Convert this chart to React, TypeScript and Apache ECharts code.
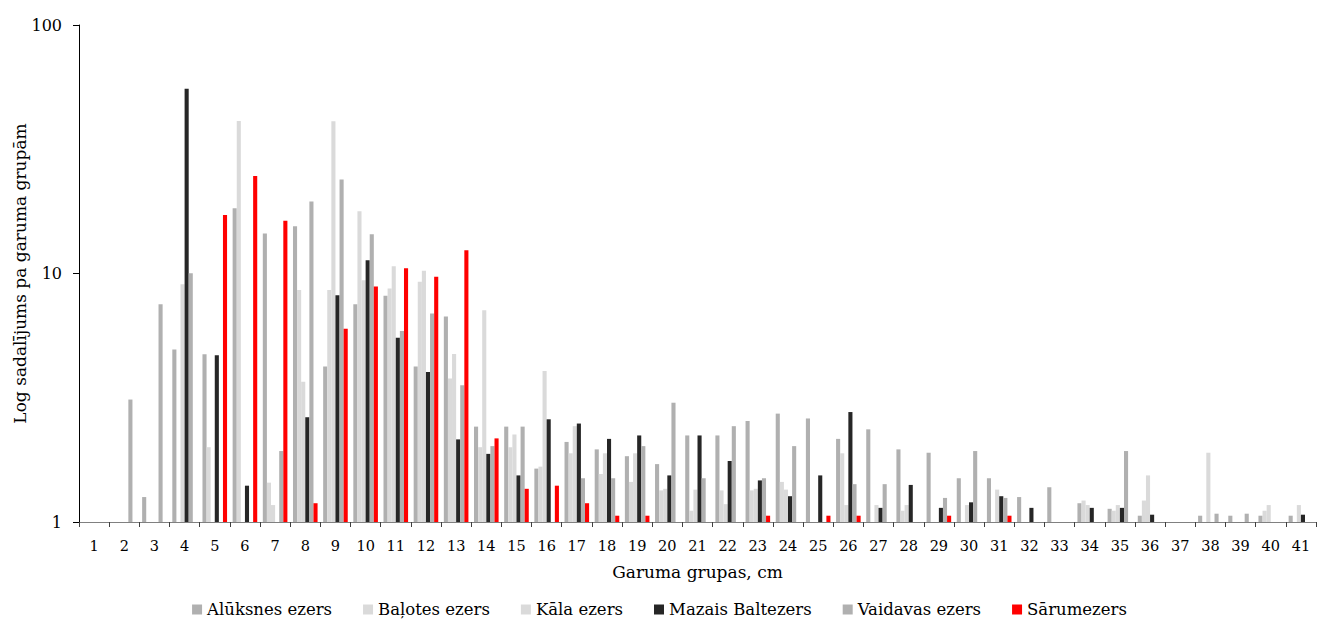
import React, { useEffect, useRef } from "react";
import * as echarts from "echarts";

const categories = Array.from({ length: 41 }, (_, i) => String(i + 1));

const seriesNames = [
  "Alūksnes ezers",
  "Baļotes ezers",
  "Kāla ezers",
  "Mazais Baltezers",
  "Vaidavas ezers",
  "Sārumezers",
];

const seriesColors = ["#b0b0b0", "#dadada", "#dadada", "#262626", "#b0b0b0", "#ff0000"];

const N = null;

// category:           1   2     3     4     5     6     7     8     9     10    11    12    13    14    15    16    17    18    19    20    21    22    23    24    25    26    27    28    29    30    31    32    33    34    35    36    37    38    39    40    41
const aluksnes = [N, N, 1.26, 4.95, 4.73, 18.3, 14.5, 15.5, 4.22, 7.52, 8.13, 4.22, 6.71, 2.42, 2.42, 1.64, 2.1, 1.96, 1.84, 1.71, 2.23, 2.23, 2.55, 2.73, 2.61, 2.16, 2.36, 1.96, 1.9, 1.5, 1.5, 1.26, 1.38, 1.19, 1.13, 1.06, N, 1.06, 1.06, 1.06, 1.06];
const balotes = [N, N, N, N, 2.0, 41.1, 1.44, 8.59, 8.59, 17.8, 8.7, 9.26, 3.78, 2.0, 2.0, 1.67, 1.89, 1.56, 1.45, 1.34, 1.11, 1.34, 1.34, 1.45, N, 1.89, N, 1.11, N, N, N, N, N, 1.22, 1.11, 1.22, N, N, N, 1.11, N];
const kala = [N, N, N, 9.06, N, N, 1.17, 3.67, 41.0, 9.4, 10.7, 10.25, 4.74, 7.11, 2.25, 4.05, 2.43, 1.89, 1.89, 1.36, 1.35, 1.18, 1.36, 1.35, N, 1.17, 1.17, 1.17, N, 1.17, 1.35, N, N, 1.17, 1.17, 1.54, N, 1.9, N, 1.17, 1.17];
const mazais = [N, N, N, 55.4, 4.69, 1.4, N, 2.64, 8.18, 11.3, 5.52, 4.01, 2.15, 1.88, 1.54, 2.59, 2.49, 2.16, 2.23, 1.54, 2.23, 1.76, 1.47, 1.27, 1.54, 2.77, 1.14, 1.41, 1.14, 1.2, 1.27, 1.14, N, 1.14, 1.14, 1.07, N, N, N, N, 1.07];
const vaidavas = [N, 3.11, 7.52, 10.03, N, N, 1.93, 19.5, 23.9, 14.4, 5.87, 6.9, 3.55, 2.02, 2.42, N, 1.5, 1.5, 2.02, 3.02, 1.5, 2.43, 1.5, 2.02, N, 1.42, 1.42, N, 1.25, 1.93, 1.25, N, N, N, 1.93, N, N, 1.08, 1.08, N, N];
const sarumezers = [N, N, N, N, 17.2, 24.7, 16.3, 1.19, 6.0, 8.86, 10.5, 9.7, 12.4, 2.17, 1.36, 1.4, 1.19, 1.06, 1.06, N, N, N, 1.06, N, 1.06, 1.06, N, N, 1.06, N, 1.06, N, N, N, N, N, N, N, N, N, N];

const seriesData = [aluksnes, balotes, kala, mazais, vaidavas, sarumezers];

const FONT = "DejaVu Serif";

export default function App() {
  const ref = useRef<HTMLDivElement>(null);

  useEffect(() => {
    if (!ref.current) return;
    const chart = echarts.init(ref.current, undefined, { renderer: "svg" });
    chart.setOption({
      animation: false,
      backgroundColor: "#ffffff",
      textStyle: { fontFamily: FONT, color: "#000" },
      grid: {
        left: 79,
        right: 3,
        top: 25,
        bottom: 97,
        containLabel: false,
        outerBoundsMode: "none",
      },
      legend: {
        top: 601,
        left: "center",
        padding: 0,
        icon: "rect",
        itemWidth: 10,
        itemHeight: 10,
        itemGap: 31,
        textStyle: { fontFamily: FONT, fontSize: 16.5, lineHeight: 17, color: "#000" },
        data: seriesNames,
      },
      xAxis: {
        type: "category",
        data: categories,
        name: "Garuma grupas, cm",
        nameLocation: "middle",
        nameGap: 41,
        nameMoveOverlap: false,
        nameTextStyle: { fontFamily: FONT, fontSize: 17, color: "#000" },
        axisLine: { show: true, lineStyle: { color: "#808080", width: 1 } },
        axisTick: { show: true, alignWithLabel: false, length: 5, lineStyle: { color: "#404040" } },
        axisLabel: { fontFamily: FONT, fontSize: 14.5, color: "#000", margin: 16, interval: 0 },
        splitLine: { show: false },
      },
      yAxis: {
        type: "log",
        logBase: 10,
        min: 1,
        max: 100,
        name: "Log sadalījums pa garuma grupām",
        nameLocation: "middle",
        nameGap: 51,
        nameMoveOverlap: false,
        nameTextStyle: { fontFamily: FONT, fontSize: 17, color: "#000" },
        axisLine: { show: true, lineStyle: { color: "#000", width: 1 } },
        axisTick: { show: true, length: 6, lineStyle: { color: "#000" } },
        axisLabel: { fontFamily: FONT, fontSize: 16, color: "#000", margin: 17 },
        splitLine: { show: false },
        minorTick: { show: false },
      },
      series: seriesNames.map((name, i) => ({
        name,
        type: "bar",
        data: seriesData[i],
        barGap: "0%",
        barCategoryGap: "18.5%",
        itemStyle: { color: seriesColors[i] },
      })),
    });
    return () => chart.dispose();
  }, []);

  return (
    <div
      ref={ref}
      style={{ position: "absolute", left: 0, top: 0, width: 1319, height: 619 }}
    />
  );
}
